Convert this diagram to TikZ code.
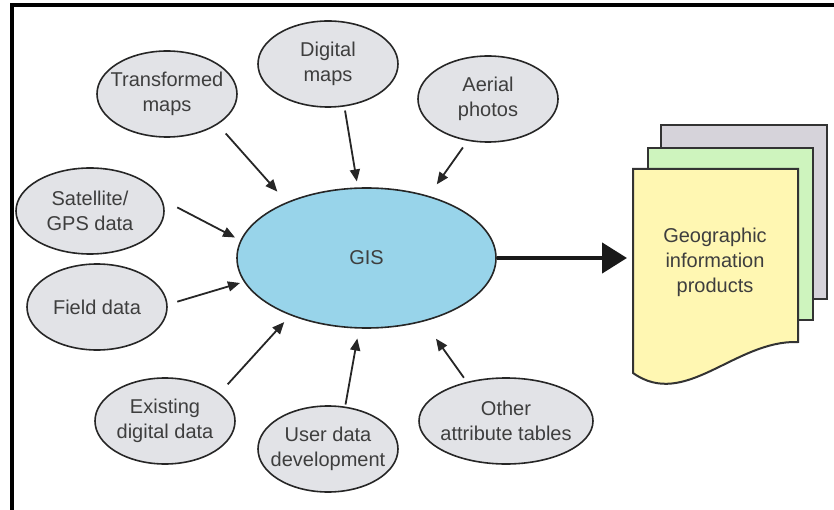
\documentclass[tikz,border=0pt]{standalone}
\usepackage{fontspec}
\setmainfont{Liberation Sans}
\usetikzlibrary{shapes.geometric,arrows.meta}
\definecolor{gisblue}{RGB}{152,212,234}
\definecolor{srcgray}{RGB}{226,227,231}
\definecolor{pageyellow}{RGB}{255,247,178}
\definecolor{pagegreen}{RGB}{206,244,190}
\definecolor{pagegray}{RGB}{214,211,218}
\definecolor{inkgray}{RGB}{62,62,62}

\begin{document}
\begin{tikzpicture}[x=1pt,y=-1pt,
	source/.style={ellipse,draw=black!85,line width=1.6pt,fill=srcgray,minimum width=140pt,minimum height=86pt,
		inner xsep=-20pt,inner ysep=0pt,align=center,text=inkgray,font=\fontsize{20}{25}\selectfont},
	hub/.style={ellipse,draw=black!85,line width=1.6pt,fill=gisblue,minimum width=259pt,minimum height=140pt,
		text=inkgray,font=\fontsize{20}{25}\selectfont},
	feed/.style={-{Triangle[length=12pt,width=10pt]},line width=1.8pt,draw=black!85},
	bigarrow/.style={-{Triangle[length=25pt,width=30pt]},line width=4.5pt,draw=black!90},
	page/.style={draw=black!80,line width=2pt},
	prodtext/.style={align=center,text=inkgray,font=\fontsize{20}{25}\selectfont}]
	\useasboundingbox (0,0) rectangle (834,510);
	\draw[line width=3.5pt] (12,510) -- (12,5) -- (834,5);

	\node[hub] (gis) at (366.5,258) {GIS};

	\node[source] (tm) at (167,94) {Transformed\\maps};
	\node[source] (dm) at (328,64) {Digital\\maps};
	\node[source] (ap) at (488,99) {Aerial\\photos};
	\node[source,minimum width=148pt] (sat) at (90,211) {Satellite/\\GPS data};
	\node[source] (fd) at (97,307) {Field data};
	\node[source] (ed) at (165,421) {Existing\\digital data};
	\node[source] (ud) at (328,449) {User data\\development};
	\node[source,minimum width=174pt] (oa) at (506,421) {Other\\attribute tables};

	\draw[feed,shorten <=12pt,shorten >=14pt] (tm.-31) -- (gis.145);
	\draw[feed,shorten <=4pt,shorten >=6pt] (dm.-69) -- (gis.97);
	\draw[feed,shorten <=8pt,shorten >=14pt] (ap.-116) -- (gis.45);
	\draw[feed,shorten <=17pt,shorten >=6pt] (sat.9) -- (gis.172);
	\draw[feed,shorten <=10pt,shorten >=4pt] (fd.2) -- (gis.-169);
	\draw[feed,shorten <=12pt,shorten >=9pt] (ed.27) -- (gis.-143);
	\draw[feed,shorten <=2pt,shorten >=10pt] (ud.68) -- (gis.-96);
	\draw[feed,shorten <=5pt,shorten >=21pt] (oa.135) -- (gis.-48);

	% stack of output sheets
	\draw[page,fill=pagegray] (661,125) rectangle (827,299);
	\draw[page,fill=pagegreen] (648,148) rectangle (813,320);
	\draw[page,fill=pageyellow] (633,373) -- (633,169) -- (798,169) -- (798,342)
		.. controls (735,340) and (685,410) .. (633,373) -- cycle;
	\node[prodtext] (prod) at (715,262) {Geographic\\information\\products};

	\coordinate (pageedge) at (633,258);
	\draw[bigarrow,shorten >=6pt] (gis.east) -- (pageedge);
\end{tikzpicture}
\end{document}
